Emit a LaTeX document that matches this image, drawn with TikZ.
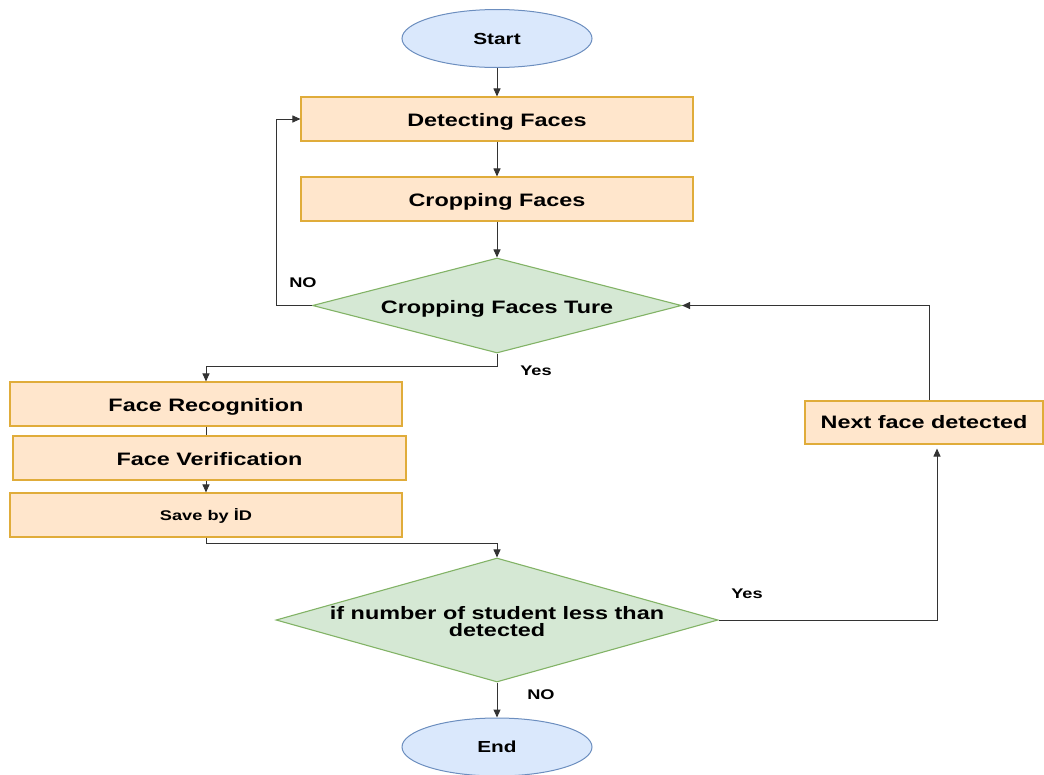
\documentclass[tikz,border=0pt]{standalone}
\usepackage{fontspec}
\newfontfamily\lbl{Liberation Sans Bold}[FakeStretch=1.3]
\usetikzlibrary{shapes.geometric,arrows.meta,calc}
\definecolor{orfill}{HTML}{FFE6CC}
\definecolor{ordraw}{HTML}{E0AC3A}
\definecolor{grfill}{HTML}{D5E8D4}
\definecolor{grdraw}{HTML}{82B366}
\definecolor{blfill}{HTML}{DAE8FC}
\definecolor{bldraw}{HTML}{6C8EBF}
\definecolor{lncol}{HTML}{333333}
\begin{document}
\begin{tikzpicture}[x=1pt,y=-1pt,
  every node/.style={font=\lbl, text=black},
  proc/.style={rectangle, draw=ordraw, fill=orfill, line width=1.1pt, minimum width=392pt, minimum height=44pt, inner sep=0pt, text height=14pt, text depth=0pt, font=\lbl\fontsize{18}{21}\selectfont},
  term/.style={ellipse, draw=bldraw, fill=blfill, line width=1pt, minimum width=190pt, minimum height=58pt, inner sep=0pt, font=\lbl\fontsize{16}{19}\selectfont},
  decis/.style={diamond, draw=grdraw, fill=grfill, line width=1.1pt, inner sep=0pt},
  conn/.style={draw=lncol, line width=1pt},
  arr/.style={conn, -{Triangle[length=8pt,width=7pt]}},
  tag/.style={font=\lbl\fontsize{14}{16}\selectfont}
]
\useasboundingbox (0,0) rectangle (1044,774);

\node[term] (start) at (497,38.5) {Start};
\node[proc] (det) at (497,119) {Detecting Faces};
\node[proc] (crop) at (497,199) {Cropping Faces};
\node[decis, minimum width=369pt, minimum height=95pt, aspect=3.88,
  label={[font=\lbl\fontsize{18}{21}\selectfont, text height=14pt, text depth=0pt, yshift=-1pt]center:Cropping Faces Ture}] (dia1) at (497,305.5) {};
\node[proc] (fr) at (206,404) {Face Recognition};
\node[proc, minimum width=393pt] (fv) at (209.5,458) {Face Verification};
\node[proc, minimum width=392pt, text height=10pt, font=\lbl\fontsize{14}{17}\selectfont] (sv) at (206,515) {Save by İD};
\node[decis, minimum width=442pt, minimum height=124pt, aspect=3.56,
  label={[font=\lbl\fontsize{18}{17}\selectfont, align=center, yshift=-2pt]center:if number of student less than\\detected}] (dia2) at (497,620) {};
\node[term] (end) at (497,747) {End};
\node[proc, minimum width=238pt, minimum height=43pt, text height=12pt] (next) at (924,422.5) {Next face detected};

\draw[arr] (start) -- (det);
\draw[arr] (det) -- (crop);
\draw[arr] (crop) -- (dia1.north);
\draw[arr] (dia1.west) -- ++(-35,0) |- (det.west);
\draw[arr] (dia1.south) -- ++(0,13) -| (fr.north);
\draw[conn] (fr.south) -- (fr.south |- fv.north);
\draw[arr] (fv.south -| sv.north) -- (sv.north);
\draw[arr] (sv.south) -- ++(0,6) -| (dia2.north);
\draw[arr] (dia2.south) -- (end.north);
\draw[arr, shorten >=4pt] (dia2.east) -| ([xshift=13pt]next.south);
\draw[arr] ([xshift=5pt]next.north) |- (dia1.east);

\node[tag] (lno1) at (303,283) {NO};
\node[tag] (lyes1) at (536,371) {Yes};
\node[tag] (lyes2) at (747,594) {Yes};
\node[tag] (lno2) at (541,695) {NO};
\end{tikzpicture}
\end{document}
